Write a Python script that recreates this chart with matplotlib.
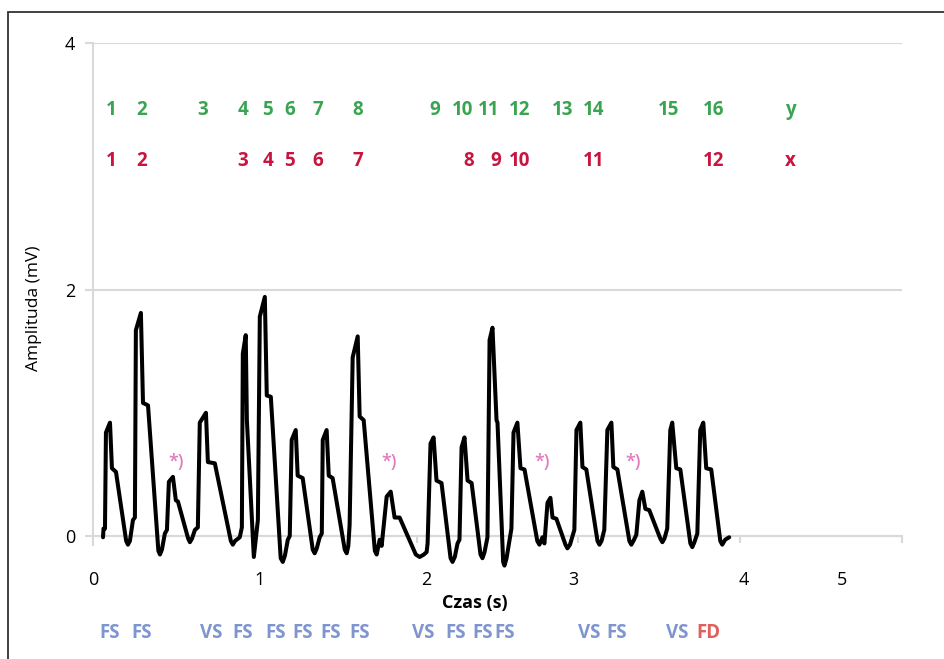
import matplotlib

matplotlib.use("Agg")

import matplotlib.pyplot as plt
from matplotlib.patches import Rectangle

plt.rcParams["font.family"] = ["Open Sans", "DejaVu Sans"]

# ECG trace: time (s) and amplitude (mV)
t_s = [0.062, 0.065, 0.074, 0.080, 0.105, 0.117, 0.142, 0.205, 0.216, 0.228,
       0.247, 0.259, 0.265, 0.296, 0.309, 0.340, 0.404, 0.414, 0.426, 0.444,
       0.457, 0.469, 0.494, 0.512, 0.525, 0.588, 0.599, 0.612, 0.630, 0.648,
       0.660, 0.698, 0.710, 0.753, 0.852, 0.864, 0.878, 0.907, 0.920, 0.926,
       0.944, 0.951, 0.994, 1.019, 1.031, 1.062, 1.074, 1.099, 1.160, 1.173,
       1.186, 1.204, 1.216, 1.228, 1.253, 1.265, 1.296, 1.358, 1.370, 1.383,
       1.401, 1.414, 1.420, 1.444, 1.457, 1.481, 1.556, 1.568, 1.578, 1.586,
       1.605, 1.636, 1.648, 1.673, 1.742, 1.753, 1.772, 1.784, 1.815, 1.840,
       1.864, 1.895, 1.995, 2.019, 2.045, 2.062, 2.068, 2.086, 2.105, 2.123,
       2.154, 2.210, 2.222, 2.236, 2.253, 2.265, 2.278, 2.296, 2.315, 2.340,
       2.395, 2.407, 2.420, 2.438, 2.451, 2.469, 2.494, 2.500, 2.535, 2.543,
       2.556, 2.586, 2.599, 2.623, 2.642, 2.667, 2.746, 2.759, 2.778, 2.790,
       2.809, 2.827, 2.840, 2.864, 2.920, 2.932, 2.948, 2.975, 2.988, 3.012,
       3.025, 3.049, 3.118, 3.130, 3.143, 3.160, 3.179, 3.204, 3.216, 3.241,
       3.315, 3.327, 3.340, 3.358, 3.377, 3.395, 3.414, 3.438, 3.506, 3.519,
       3.532, 3.549, 3.568, 3.580, 3.605, 3.630, 3.692, 3.704, 3.717, 3.735,
       3.753, 3.772, 3.790, 3.821, 3.877, 3.889, 3.907, 3.932]
amp_mv = [-0.01, 0.06, 0.06, 0.84, 0.92, 0.55, 0.52, -0.04, -0.07, -0.04,
          0.13, 0.15, 1.67, 1.81, 1.08, 1.06, -0.12, -0.15, -0.11, 0.02,
          0.05, 0.44, 0.48, 0.29, 0.28, -0.02, -0.05, -0.02, 0.05, 0.07,
          0.92, 1.00, 0.60, 0.59, -0.04, -0.07, -0.04, -0.01, 0.07, 1.48,
          1.63, 0.94, -0.17, 0.13, 1.78, 1.94, 1.14, 1.13, -0.18, -0.21,
          -0.16, -0.03, 0.00, 0.78, 0.86, 0.49, 0.47, -0.11, -0.14, -0.10,
          -0.01, 0.02, 0.78, 0.86, 0.49, 0.47, -0.11, -0.14, -0.08, 0.09,
          1.45, 1.62, 0.97, 0.94, -0.12, -0.15, -0.03, -0.08, 0.32, 0.36,
          0.15, 0.15, -0.15, -0.17, -0.15, -0.13, -0.06, 0.75, 0.80, 0.45,
          0.43, -0.18, -0.21, -0.17, -0.06, -0.03, 0.72, 0.80, 0.45, 0.43,
          -0.15, -0.18, -0.13, -0.01, 1.59, 1.69, 0.94, 0.92, -0.21, -0.24,
          -0.18, 0.06, 0.84, 0.92, 0.55, 0.54, -0.04, -0.07, -0.01, -0.06,
          0.27, 0.31, 0.15, 0.14, -0.07, -0.10, -0.07, 0.05, 0.86, 0.92,
          0.56, 0.54, -0.04, -0.07, -0.04, 0.05, 0.86, 0.92, 0.56, 0.54,
          -0.04, -0.07, -0.04, 0.01, 0.29, 0.36, 0.22, 0.21, -0.02, -0.05,
          -0.02, 0.06, 0.86, 0.92, 0.55, 0.54, -0.06, -0.09, -0.05, 0.02,
          0.86, 0.92, 0.55, 0.54, -0.04, -0.07, -0.03, -0.01]

# beat numbering rows (y = green, x = red)
y_labels = ["1", "2", "3", "4", "5", "6", "7", "8", "9", "10", "11", "12",
            "13", "14", "15", "16", "y"]
y_pos = [0.111, 0.302, 0.679, 0.926, 1.080, 1.216, 1.389, 1.636, 2.111,
         2.284, 2.444, 2.636, 2.901, 3.093, 3.556, 3.833, 4.309]
x_labels = ["1", "2", "3", "4", "5", "6", "7", "8", "9", "10", "11", "12", "x"]
x_pos = [0.111, 0.302, 0.926, 1.080, 1.216, 1.389, 1.636, 2.321, 2.488,
         2.636, 3.093, 3.833, 4.309]

# beat classification codes under the time axis
codes = ["FS", "FS", "VS", "FS", "FS", "FS", "FS", "FS", "VS", "FS", "FS",
         "FS", "VS", "FS", "VS", "FD"]
code_pos = [0.105, 0.302, 0.728, 0.926, 1.130, 1.296, 1.469, 1.648, 2.043,
            2.241, 2.407, 2.543, 3.068, 3.235, 3.611, 3.802]

# marked small waves
star_pos = [0.512, 1.833, 2.778, 3.340]

tick_vals = [0, 1, 2, 3, 4, 5]
tick_label_pos = [0.0, 1.03, 2.06, 2.97, 4.02, 4.63]

GREEN = "#3aa452"
RED = "#c8143f"
BLUE = "#7f95cf"
FD_RED = "#e0605c"
PINK = "#e27bbd"
GRID = "#d9d9d9"

fig = plt.figure(figsize=(9.44, 6.59), dpi=100)
ax = fig.add_axes([93 / 944, 0.1305, 809 / 944, 0.8042])

ax.plot(t_s, amp_mv, color="black", lw=2.9, solid_joinstyle="round",
        solid_capstyle="round", zorder=3)

ax.set_xlim(0, 5)
ax.set_ylim(-0.3, 4.0)

for s in ("top", "right"):
    ax.spines[s].set_visible(False)
ax.spines["bottom"].set_position(("data", 0))
ax.spines["bottom"].set_color(GRID)
ax.spines["bottom"].set_linewidth(1.5)
ax.spines["left"].set_color(GRID)
ax.spines["left"].set_linewidth(1.5)
ax.spines["left"].set_bounds(-0.07, 4)

ax.set_yticks([0, 2, 4])
ax.set_yticklabels(["0", "2", "4"], fontsize=13)
ax.yaxis.grid(True, color=GRID, lw=1.5)
ax.tick_params(axis="y", length=6, width=1.5, color=GRID, pad=7)

ax.set_xticks(tick_vals, minor=True)
ax.set_xticks(tick_label_pos)
ax.set_xticklabels([str(v) for v in tick_vals], fontsize=13)
ax.tick_params(axis="x", which="major", length=0, pad=25)
ax.tick_params(axis="x", which="minor", length=5, width=1.5, color=GRID,
               direction="out")

ax.set_ylabel("Amplituda (mV)", fontsize=12.5, labelpad=16)
ax.text(2.36, -0.54, "Czas (s)", ha="center", va="center", fontsize=13,
        fontweight="bold", clip_on=False)

for lab, p in zip(y_labels, y_pos):
    ax.text(p, 3.46, lab, color=GREEN, ha="center", va="center",
            fontsize=13.5, fontweight="bold")
for lab, p in zip(x_labels, x_pos):
    ax.text(p, 3.04, lab, color=RED, ha="center", va="center",
            fontsize=13.5, fontweight="bold")

for lab, p in zip(codes, code_pos):
    ax.text(p, -0.79, lab, color=FD_RED if lab == "FD" else BLUE,
            ha="center", va="center", fontsize=13.5, fontweight="bold",
            clip_on=False)

for p in star_pos:
    ax.text(p, 0.60, "*)", color=PINK, ha="center", va="center",
            fontsize=13, fontweight="semibold", zorder=4)

# outer frame
fig.add_artist(Rectangle((8 / 944, -0.05), 1.0, 1 - 12 / 659 + 0.05,
                         transform=fig.transFigure, fill=False,
                         edgecolor="#333333", lw=1.3))

fig.savefig("out.png", dpi=100)
